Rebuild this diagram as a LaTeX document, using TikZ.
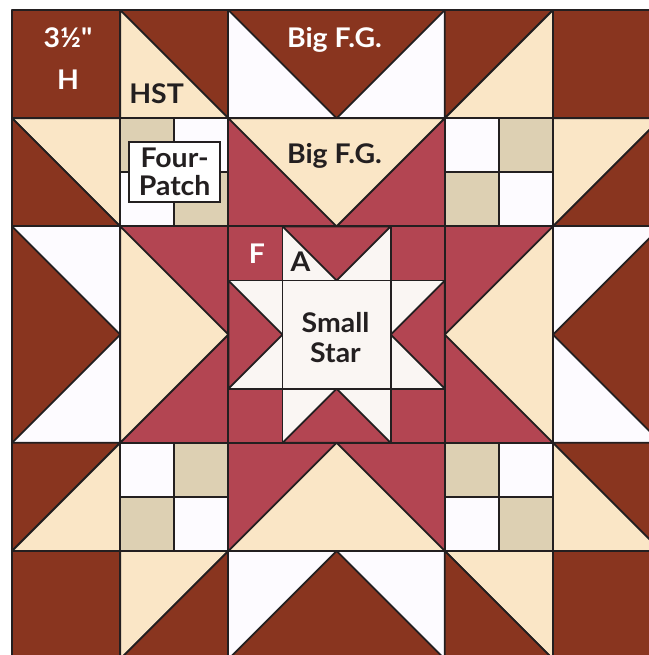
\documentclass[tikz,border=0pt]{standalone}
\usepackage{fontspec}
\setmainfont{Lato}[Ligatures=TeXOff, FakeStretch=1.05]
\definecolor{qbrown}{HTML}{89351F}
\definecolor{qcream}{HTML}{FAE6C6}
\definecolor{qred}{HTML}{B34552}
\definecolor{qtan}{HTML}{DDD0B3}
\definecolor{qwhite}{HTML}{FDFBFF}
\definecolor{qlight}{HTML}{FAF6F3}
\definecolor{qline}{HTML}{231F20}
\tikzset{
  patch/.style={draw=qline, line width=1.2pt, line join=round},
  lbl/.style={font=\bfseries\fontsize{17.8}{20}\selectfont, inner sep=0pt, anchor=base},
  lblw/.style={lbl, text=white},
  lbld/.style={lbl, text=qline},
}
\begin{document}
\begin{tikzpicture}[x=2.5cm, y=-2.5cm]
\useasboundingbox (-0.1109,-0.0924) rectangle (5.887,5.961);
\clip (-0.1109,-0.0924) rectangle (5.887,5.961);
\fill[white] (-0.2,-0.2) rectangle (6.2,6.2);
% ---- Row 0
\filldraw[patch, fill=qbrown] (0,0) rectangle (1,1);
\filldraw[patch, fill=qbrown] (1,0) -- (2,0) -- (2,1) -- cycle;
\filldraw[patch, fill=qcream] (1,0) -- (1,1) -- (2,1) -- cycle;
\filldraw[patch, fill=qwhite] (2,0) rectangle (4,1);
\filldraw[patch, fill=qbrown] (2,0) -- (4,0) -- (3,1) -- cycle;
\filldraw[patch, fill=qbrown] (4,0) -- (5,0) -- (4,1) -- cycle;
\filldraw[patch, fill=qcream] (5,0) -- (5,1) -- (4,1) -- cycle;
\filldraw[patch, fill=qbrown] (5,0) rectangle (6,1);
% ---- Row 1
\filldraw[patch, fill=qcream] (0,1) -- (1,1) -- (1,2) -- cycle;
\filldraw[patch, fill=qbrown] (0,1) -- (0,2) -- (1,2) -- cycle;
\filldraw[patch, fill=qtan] (1,1) rectangle (1.5,1.5);
\filldraw[patch, fill=qwhite] (1.5,1) rectangle (2,1.5);
\filldraw[patch, fill=qwhite] (1,1.5) rectangle (1.5,2);
\filldraw[patch, fill=qtan] (1.5,1.5) rectangle (2,2);
\filldraw[patch, fill=qred] (2,1) rectangle (4,2);
\filldraw[patch, fill=qcream] (2,1) -- (4,1) -- (3,2) -- cycle;
\filldraw[patch, fill=qwhite] (4,1) rectangle (4.5,1.5);
\filldraw[patch, fill=qtan] (4.5,1) rectangle (5,1.5);
\filldraw[patch, fill=qtan] (4,1.5) rectangle (4.5,2);
\filldraw[patch, fill=qwhite] (4.5,1.5) rectangle (5,2);
\filldraw[patch, fill=qcream] (5,1) -- (6,1) -- (5,2) -- cycle;
\filldraw[patch, fill=qbrown] (6,1) -- (6,2) -- (5,2) -- cycle;
% ---- Rows 2-3
\filldraw[patch, fill=qwhite] (0,2) rectangle (1,4);
\filldraw[patch, fill=qbrown] (0,2) -- (0,4) -- (1,3) -- cycle;
\filldraw[patch, fill=qred] (1,2) rectangle (2,4);
\filldraw[patch, fill=qcream] (1,2) -- (1,4) -- (2,3) -- cycle;
\filldraw[patch, fill=qred] (4,2) rectangle (5,4);
\filldraw[patch, fill=qcream] (5,2) -- (5,4) -- (4,3) -- cycle;
\filldraw[patch, fill=qwhite] (5,2) rectangle (6,4);
\filldraw[patch, fill=qbrown] (6,2) -- (6,4) -- (5,3) -- cycle;
% small star
\filldraw[patch, fill=qred] (2,2) rectangle (2.5,2.5);
\filldraw[patch, fill=qred] (3.5,2) rectangle (4,2.5);
\filldraw[patch, fill=qred] (2,3.5) rectangle (2.5,4);
\filldraw[patch, fill=qred] (3.5,3.5) rectangle (4,4);
\filldraw[patch, fill=qlight] (2.5,2) rectangle (3.5,2.5);
\filldraw[patch, fill=qred] (2.5,2) -- (3.5,2) -- (3,2.5) -- cycle;
\filldraw[patch, fill=qlight] (2.5,3.5) rectangle (3.5,4);
\filldraw[patch, fill=qred] (2.5,4) -- (3.5,4) -- (3,3.5) -- cycle;
\filldraw[patch, fill=qlight] (2,2.5) rectangle (2.5,3.5);
\filldraw[patch, fill=qred] (2,2.5) -- (2,3.5) -- (2.5,3) -- cycle;
\filldraw[patch, fill=qlight] (3.5,2.5) rectangle (4,3.5);
\filldraw[patch, fill=qred] (4,2.5) -- (4,3.5) -- (3.5,3) -- cycle;
\filldraw[patch, fill=qlight] (2.5,2.5) rectangle (3.5,3.5);
% ---- Row 4
\filldraw[patch, fill=qbrown] (0,4) -- (1,4) -- (0,5) -- cycle;
\filldraw[patch, fill=qcream] (1,4) -- (1,5) -- (0,5) -- cycle;
\filldraw[patch, fill=qwhite] (1,4) rectangle (1.5,4.5);
\filldraw[patch, fill=qtan] (1.5,4) rectangle (2,4.5);
\filldraw[patch, fill=qtan] (1,4.5) rectangle (1.5,5);
\filldraw[patch, fill=qwhite] (1.5,4.5) rectangle (2,5);
\filldraw[patch, fill=qred] (2,4) rectangle (4,5);
\filldraw[patch, fill=qcream] (2,5) -- (4,5) -- (3,4) -- cycle;
\filldraw[patch, fill=qtan] (4,4) rectangle (4.5,4.5);
\filldraw[patch, fill=qwhite] (4.5,4) rectangle (5,4.5);
\filldraw[patch, fill=qwhite] (4,4.5) rectangle (4.5,5);
\filldraw[patch, fill=qtan] (4.5,4.5) rectangle (5,5);
\filldraw[patch, fill=qbrown] (5,4) -- (6,4) -- (6,5) -- cycle;
\filldraw[patch, fill=qcream] (5,4) -- (5,5) -- (6,5) -- cycle;
% ---- Row 5
\filldraw[patch, fill=qbrown] (0,5) rectangle (1,6);
\filldraw[patch, fill=qcream] (1,5) -- (2,5) -- (1,6) -- cycle;
\filldraw[patch, fill=qbrown] (2,5) -- (2,6) -- (1,6) -- cycle;
\filldraw[patch, fill=qwhite] (2,5) rectangle (4,6);
\filldraw[patch, fill=qbrown] (2,6) -- (4,6) -- (3,5) -- cycle;
\filldraw[patch, fill=qcream] (4,5) -- (5,5) -- (5,6) -- cycle;
\filldraw[patch, fill=qbrown] (4,5) -- (4,6) -- (5,6) -- cycle;
\filldraw[patch, fill=qbrown] (5,5) rectangle (6,6);
% ---- Labels
\node[lblw] (size) at (0.518,0.342) {3½"};
\node[lblw] (hlab) at (0.518,0.739) {H};
\node[lbld] (hst) at (1.336,0.860) {HST};
\node[lblw] (fg1) at (2.98,0.351) {Big F.G.};
\node[lbld] (fg2) at (2.98,1.414) {Big F.G.};
\node[draw=qline, line width=1.2pt, fill=white, minimum width=2.095cm, minimum height=1.387cm,
      align=center, inner sep=0pt, font=\bfseries\fontsize{17.8}{18.3}\selectfont, text=qline]
      (four) at (1.503,1.495) {Four-\\Patch};
\node[lblw] (flab) at (2.264,2.347) {F};
\node[lbld] (alab) at (2.666,2.421) {A};
\node[lbld] (small) at (2.99,2.985) {Small};
\node[lbld] (star) at (2.99,3.262) {Star};
\end{tikzpicture}
\end{document}
